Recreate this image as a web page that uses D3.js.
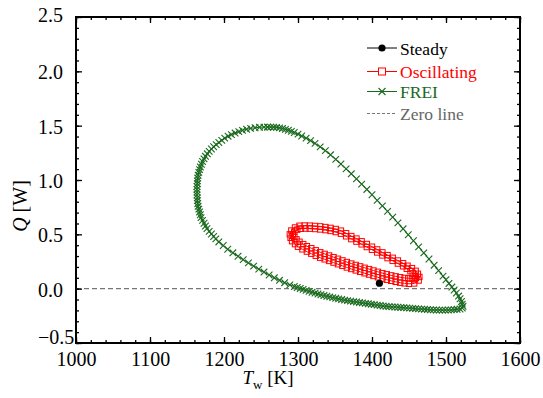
<!DOCTYPE html>
<html>
<head>
<meta charset="utf-8">
<script src="https://cdn.jsdelivr.net/npm/d3@7"></script>
<style>
  body { margin: 0; background: #fff; }
  svg { display: block; font-family: "Liberation Serif", "Times New Roman", serif; }
</style>
</head>
<body>
<div id="chart"></div>
<script>
// values: [T_w (K), Q (W)]
const steadyData = [[1410, 0.05]];

const oscData = [
  // outer pass
  [1289, 0.50], [1291, 0.535], [1296, 0.563], [1302, 0.579], [1309, 0.581], [1316, 0.58],
  [1323, 0.577], [1330, 0.573], [1337, 0.567], [1344, 0.559], [1351, 0.549], [1358, 0.534],
  [1365, 0.51], [1372, 0.484], [1379, 0.461], [1386, 0.436], [1393, 0.411], [1400, 0.386],
  [1407, 0.361], [1414, 0.334], [1421, 0.309], [1428, 0.284], [1435, 0.259], [1442, 0.234],
  [1448, 0.211], [1454, 0.189], [1459, 0.164], [1462, 0.137], [1464, 0.108], [1463, 0.075],
  [1457, 0.048], [1450, 0.045], [1444, 0.049], [1438, 0.055], [1432, 0.063], [1426, 0.072],
  [1420, 0.082], [1414, 0.093], [1408, 0.105], [1402, 0.117], [1396, 0.13], [1390, 0.142],
  [1384, 0.155], [1378, 0.168], [1372, 0.181], [1366, 0.195], [1360, 0.21], [1354, 0.225],
  [1348, 0.24], [1342, 0.255], [1336, 0.27], [1330, 0.285], [1324, 0.303], [1318, 0.322],
  [1312, 0.341], [1306, 0.362], [1300, 0.386], [1296, 0.41], [1292, 0.437], [1290, 0.468],
  // inner pass
  [1293, 0.50], [1295, 0.525], [1299, 0.543], [1304, 0.551], [1310, 0.553], [1316, 0.552],
  [1323, 0.549], [1330, 0.545], [1337, 0.539], [1344, 0.531], [1351, 0.521], [1358, 0.506],
  [1365, 0.482], [1372, 0.456], [1379, 0.433], [1386, 0.408], [1393, 0.383], [1400, 0.358],
  [1407, 0.333], [1414, 0.306], [1421, 0.281], [1428, 0.256], [1435, 0.231], [1442, 0.206],
  [1447, 0.183], [1452, 0.161], [1455, 0.14], [1458, 0.117], [1459, 0.098], [1458, 0.085],
  [1454, 0.093], [1449, 0.095], [1444, 0.099], [1438, 0.105], [1432, 0.113], [1426, 0.122],
  [1420, 0.132], [1414, 0.143], [1408, 0.155], [1402, 0.167], [1396, 0.18], [1390, 0.192],
  [1384, 0.205], [1378, 0.218], [1372, 0.231], [1366, 0.245], [1360, 0.26], [1354, 0.275],
  [1348, 0.29], [1342, 0.305], [1336, 0.32], [1330, 0.335], [1324, 0.353], [1318, 0.372],
  [1312, 0.391], [1307, 0.41], [1302, 0.432], [1298, 0.454], [1295, 0.477], [1293, 0.5]
];

const freiData = [
  // right branch, from the top going down
  [1259, 1.487], [1263, 1.487], [1267, 1.486], [1271, 1.484], [1275, 1.48], [1279, 1.474],
  [1283, 1.466], [1287, 1.458], [1291, 1.448], [1295, 1.437], [1300, 1.422], [1305, 1.405],
  [1311, 1.385], [1317, 1.362], [1323, 1.337], [1330, 1.305], [1337, 1.27], [1344, 1.232],
  [1351, 1.19], [1358, 1.147], [1365, 1.102], [1372, 1.057], [1379, 1.01], [1386, 0.962],
  [1393, 0.913], [1400, 0.864], [1407, 0.813], [1414, 0.762], [1421, 0.711], [1428, 0.658],
  [1435, 0.605], [1442, 0.551], [1449, 0.496], [1456, 0.441], [1463, 0.385], [1470, 0.329],
  [1477, 0.273], [1484, 0.216], [1490, 0.166], [1496, 0.115], [1500, 0.082], [1504, 0.048],
  [1508, 0.015], [1511, -0.012], [1514, -0.04], [1517, -0.068], [1519, -0.093], [1521, -0.118],
  [1522, -0.142], [1523, -0.162], [1522, -0.178], [1519, -0.187],
  // bottom branch, going left
  [1515, -0.19], [1511, -0.193], [1507, -0.195], [1503, -0.196], [1499, -0.197], [1495, -0.197],
  [1491, -0.197], [1487, -0.196], [1483, -0.195], [1479, -0.194], [1475, -0.192], [1471, -0.19],
  [1467, -0.188], [1463, -0.186], [1459, -0.184], [1455, -0.181], [1451, -0.179], [1447, -0.177],
  [1443, -0.175], [1439, -0.173], [1435, -0.171], [1431, -0.169], [1427, -0.167], [1423, -0.165],
  [1419, -0.162], [1415, -0.159], [1411, -0.155], [1407, -0.151], [1403, -0.147], [1399, -0.143],
  [1395, -0.139], [1391, -0.135], [1387, -0.131], [1383, -0.127], [1379, -0.123], [1375, -0.119],
  [1371, -0.115], [1367, -0.11], [1363, -0.105], [1359, -0.1], [1355, -0.094], [1351, -0.088],
  [1347, -0.082], [1343, -0.076], [1339, -0.07], [1335, -0.063], [1331, -0.056], [1327, -0.049],
  [1323, -0.041], [1319, -0.033], [1315, -0.025], [1311, -0.016], [1307, -0.007], [1303, 0.002],
  [1299, 0.011], [1295, 0.02],
  // lower left branch
  [1289, 0.035], [1282, 0.055], [1275, 0.077], [1268, 0.1], [1261, 0.126], [1254, 0.153],
  [1247, 0.18], [1240, 0.208], [1233, 0.237], [1226, 0.267], [1219, 0.298], [1212, 0.33],
  [1205, 0.363], [1199, 0.397], [1193, 0.43],
  // left side and top
  [1189, 0.458], [1186, 0.48], [1183, 0.503], [1180, 0.527], [1177, 0.552], [1175, 0.577],
  [1173, 0.602], [1171, 0.628], [1169, 0.654], [1168, 0.68], [1167, 0.706], [1166, 0.732],
  [1165, 0.758], [1164.5, 0.784], [1164, 0.81], [1164, 0.836], [1163.5, 0.862], [1163.5, 0.888],
  [1163.5, 0.914], [1163.5, 0.94], [1164, 0.966], [1164, 0.992], [1164.5, 1.018], [1165, 1.044],
  [1166, 1.07], [1167, 1.095], [1168, 1.12], [1169.5, 1.145], [1171, 1.17], [1173, 1.194],
  [1175, 1.218], [1177.5, 1.241], [1180, 1.263], [1183, 1.285], [1186, 1.306], [1189.5, 1.326],
  [1193, 1.345], [1197, 1.365], [1201, 1.385], [1205.5, 1.403], [1210, 1.418], [1215, 1.432],
  [1220, 1.445], [1225, 1.457], [1230.5, 1.467], [1236, 1.475], [1242, 1.481], [1248, 1.485],
  [1254, 1.487], [1259, 1.487]
];

const xTicks = [1000, 1100, 1200, 1300, 1400, 1500, 1600];
const yTicks = [-0.5, 0, 0.5, 1, 1.5, 2, 2.5];
const legendNames = ["Steady", "Oscillating", "FREI", "Zero line"];

var width = 543,
  height = 398;

var green = "#1a6a1e",
  red = "#ff0000",
  grey = "#777777";

var svg = d3
  .select("#chart")
  .append("svg")
  .attr("width", width)
  .attr("height", height);

var x = d3.scaleLinear().domain([1000, 1600]).range([76, 520]);
var y = d3.scaleLinear().domain([-0.5, 2.5]).range([343, 17]);

var xMinor = d3.range(1000, 1601, 20);
var yMinor = d3.range(-5, 26).map((d) => d / 10);

// zero line
svg
  .append("line")
  .attr("x1", x(1000))
  .attr("x2", x(1600))
  .attr("y1", y(0))
  .attr("y2", y(0))
  .attr("stroke", grey)
  .attr("stroke-width", 1.2)
  .attr("stroke-dasharray", "5,3");

var line = d3
  .line()
  .x((d) => x(d[0]))
  .y((d) => y(d[1]));

// FREI
svg
  .append("path")
  .datum(freiData)
  .attr("d", line)
  .attr("fill", "none")
  .attr("stroke", green)
  .attr("stroke-width", 1);

svg
  .append("g")
  .selectAll("path")
  .data(freiData)
  .join("path")
  .attr("transform", (d) => "translate(" + x(d[0]) + "," + y(d[1]) + ")")
  .attr("d", "M-3.3,-3.3L3.3,3.3M-3.3,3.3L3.3,-3.3")
  .attr("stroke", green)
  .attr("stroke-width", 1.1)
  .attr("fill", "none");

// Oscillating
svg
  .append("path")
  .datum(oscData)
  .attr("d", line)
  .attr("fill", "none")
  .attr("stroke", red)
  .attr("stroke-width", 1);

svg
  .append("g")
  .selectAll("rect")
  .data(oscData)
  .join("rect")
  .attr("x", (d) => x(d[0]) - 2.7)
  .attr("y", (d) => y(d[1]) - 2.7)
  .attr("width", 5.4)
  .attr("height", 5.4)
  .attr("fill", "none")
  .attr("stroke", red)
  .attr("stroke-width", 1);

// Steady
svg
  .append("g")
  .selectAll("circle")
  .data(steadyData)
  .join("circle")
  .attr("cx", (d) => x(d[0]))
  .attr("cy", (d) => y(d[1]))
  .attr("r", 3.6)
  .attr("fill", "#000");

// axes, ticks pointing inward on all four sides
function addAxis(axis, tx, ty, values, size, fmt) {
  var g = svg
    .append("g")
    .attr("transform", "translate(" + tx + "," + ty + ")")
    .call(axis.tickValues(values).tickSize(size).tickFormat(fmt));
  g.select(".domain").remove();
  g.selectAll(".tick line").attr("stroke", "#000").attr("stroke-width", 1.3);
  g.selectAll("text")
    .attr("font-family", "Liberation Serif, Times New Roman, serif")
    .attr("font-size", 20)
    .attr("fill", "#000");
  return g;
}

var none = () => "";
addAxis(d3.axisBottom(x), 0, 343, xMinor, -3, none);
addAxis(d3.axisTop(x), 0, 17, xMinor, -3, none);
addAxis(d3.axisTop(x), 0, 17, xTicks, -6, none);
addAxis(d3.axisLeft(y), 76, 0, yMinor, -3, none);
addAxis(d3.axisRight(y), 520, 0, yMinor, -3, none);
addAxis(d3.axisRight(y), 520, 0, yTicks, -6, none);

var xAxis = addAxis(d3.axisBottom(x), 0, 343, xTicks, -6, d3.format("d"));
xAxis.selectAll(".tick text").attr("y", 9);

var yAxis = addAxis(d3.axisLeft(y), 76, 0, yTicks, -6, d3.format(".1f"));
yAxis
  .selectAll(".tick text")
  .attr("text-anchor", "start")
  .attr("x", -38)
  .attr("dy", (d) => (d === -0.5 ? "0em" : d === 2.5 ? "0.24em" : "0.37em"));

// frame
svg
  .append("rect")
  .attr("x", x(1000))
  .attr("y", y(2.5))
  .attr("width", x(1600) - x(1000))
  .attr("height", y(-0.5) - y(2.5))
  .attr("fill", "none")
  .attr("stroke", "#000")
  .attr("stroke-width", 2);

// axis titles
var yTitle = svg
  .append("text")
  .attr("transform", "translate(27,206) rotate(-90)")
  .attr("text-anchor", "middle")
  .attr("font-size", 20);
yTitle.append("tspan").attr("font-style", "italic").text("Q");
yTitle.append("tspan").text(" [W]");

var xTitle = svg
  .append("text")
  .attr("x", 268)
  .attr("y", 384)
  .attr("text-anchor", "middle")
  .attr("font-size", 19);
xTitle.append("tspan").attr("font-style", "italic").text("T");
xTitle.append("tspan").attr("font-size", 13).attr("dy", 5).text("w");
xTitle.append("tspan").attr("dy", -5).text(" [K]");

// legend
var legendLineY = [48, 71.5, 91.5, 113.5];
var legendColors = ["#000", red, green, grey];
var legend = svg.append("g");

legendNames.forEach(function (name, i) {
  var ly = legendLineY[i];
  legend
    .append("line")
    .attr("x1", 367)
    .attr("x2", 397)
    .attr("y1", ly)
    .attr("y2", ly)
    .attr("stroke", legendColors[i])
    .attr("stroke-width", i === 3 ? 1.2 : 1)
    .attr("stroke-dasharray", i === 3 ? "3,2" : null);
  if (i === 0) {
    legend.append("circle").attr("cx", 382).attr("cy", ly).attr("r", 3.6).attr("fill", "#000");
  } else if (i === 1) {
    legend
      .append("rect")
      .attr("x", 382 - 3.5)
      .attr("y", ly - 3.5)
      .attr("width", 7)
      .attr("height", 7)
      .attr("fill", "#fff")
      .attr("stroke", red);
  } else if (i === 2) {
    legend
      .append("path")
      .attr("transform", "translate(382," + ly + ")")
      .attr("d", "M-3.5,-3.5L3.5,3.5M-3.5,3.5L3.5,-3.5")
      .attr("stroke", green)
      .attr("stroke-width", 1.1);
  }
  legend
    .append("text")
    .attr("x", 400)
    .attr("y", ly + 6.5)
    .attr("font-size", 17.5)
    .attr("fill", i === 3 ? "#666" : legendColors[i])
    .text(name);
});
</script>
</body>
</html>
